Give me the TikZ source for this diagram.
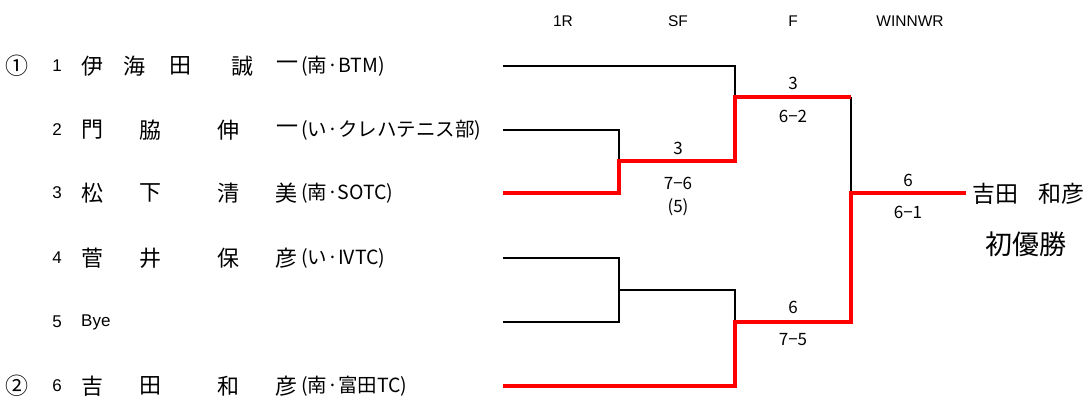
\documentclass[tikz,border=0pt]{standalone}
\usepackage{fontspec}
\setmainfont{Noto Sans CJK JP}
\newfontfamily\jp{Noto Sans CJK JP}
\newfontfamily\lat{Liberation Sans}
\begin{document}
\begin{tikzpicture}[x=1pt,y=-1pt,
  bline/.style={line width=1.5pt,line join=miter},
  rline/.style={line width=4.5pt,red,line join=miter},
  hdr/.style={font=\lat\fontsize{15.5}{15.5}\selectfont,inner sep=0pt},
  score/.style={font=\jp\fontsize{17}{17}\selectfont,inner sep=0pt},
  seed/.style={font=\jp\fontsize{23}{23}\selectfont,inner sep=0pt},
  num/.style={font=\lat\fontsize{17}{17}\selectfont,inner sep=0pt},
  nm/.style={font=\jp\fontsize{22}{22}\selectfont,inner sep=0pt},
  club/.style={font=\jp\fontsize{19.5}{19.5}\selectfont,inner sep=0pt,anchor=west},
  win/.style={font=\jp\fontsize{23}{23}\selectfont,inner sep=0pt}]
\useasboundingbox (0,0) rectangle (1088,398);
% headers
\node[hdr] (h1) at (563,21) {1R};
\node[hdr] (h2) at (678,21) {SF};
\node[hdr] (h3) at (793,21) {F};
\node[hdr] (h4) at (910,21) {WINNWR};
% seeds and numbers
\node[seed] (s1) at (17,66) {①};
\node[seed] (s2) at (17,386) {②};
\foreach \i/\y in {1/66,2/130,3/193,4/258,5/322,6/386}{
  \node[num] (n\i) at (57,\y) {\i};
}
% row 1
\node[nm] (a1) at (92,66) {伊};
\node[nm] (a2) at (134,66) {海};
\node[nm] (a3) at (180,66) {田};
\node[nm] (a4) at (242,66) {誠};
\node[nm] (a5) at (287,66) {一};
\node[club] (c1) at (301,66) {(南·BTM)};
% row 2
\node[nm] (b1) at (92,130) {門};
\node[nm] (b2) at (150,130) {脇};
\node[nm] (b3) at (228,130) {伸};
\node[nm] (b4) at (287,130) {一};
\node[club] (c2) at (301,130) {(い·クレハテニス部)};
% row 3
\node[nm] (d1) at (92,193) {松};
\node[nm] (d2) at (150,193) {下};
\node[nm] (d3) at (228,193) {清};
\node[nm] (d4) at (286,193) {美};
\node[club] (c3) at (301,193) {(南·SOTC)};
% row 4
\node[nm] (e1) at (92,258) {菅};
\node[nm] (e2) at (150,258) {井};
\node[nm] (e3) at (228,258) {保};
\node[nm] (e4) at (286,258) {彦};
\node[club] (c4) at (301,258) {(い·IVTC)};
% row 5
\node[num,anchor=west] (f1) at (81,322) {Bye};
% row 6
\node[nm] (g1) at (92,386) {吉};
\node[nm] (g2) at (150,386) {田};
\node[nm] (g3) at (228,386) {和};
\node[nm] (g4) at (286,386) {彦};
\node[club] (c6) at (301,386) {(南·富田TC)};
% bracket coordinates
\coordinate (p1) at (503,66);
\coordinate (p2) at (503,130);
\coordinate (p3) at (503,193);
\coordinate (p4) at (503,258);
\coordinate (p5) at (503,322);
\coordinate (p6) at (503,386);
\coordinate (q1) at (735,66);
\coordinate (m12) at (619,161);
\coordinate (m45) at (619,290);
\coordinate (sf1) at (735,97);
\coordinate (sf2) at (735,322);
\coordinate (f1top) at (851,97);
\coordinate (fin) at (851,193);
\coordinate (fbot) at (851,322);
\coordinate (w) at (966,193);
% black lines
\draw[bline] (p1) -- (q1) -- (sf1);
\draw[bline] (p2) -| (m12);
\draw[bline] (p4) -| (p5 -| m45) -- (p5);
\draw[bline] (m45) -| (sf2);
\draw[bline] (f1top) -- (fin);
% red lines
\draw[rline] (p3) -| (m12) -| (sf1) -- (f1top);
\draw[rline] (p6) -| (sf2) -| (fin) -- (w);
% scores
\node[score] (t1) at (678,148) {3};
\node[score] (t2) at (678,183) {7−6};
\node[score] (t3) at (678,207) {(5)};
\node[score] (t4) at (793,83) {3};
\node[score] (t5) at (793,116) {6−2};
\node[score] (t6) at (793,307) {6};
\node[score] (t7) at (793,340) {7−5};
\node[score] (t8) at (908,180) {6};
\node[score] (t9) at (908,212) {6−1};
% winner
\node[win,anchor=west] (wn) at (972,194) {吉田\hspace{0.9em}和彦};
\node[win,font=\jp\fontsize{27}{27}\selectfont] (wt) at (1026,244) {初優勝};
\end{tikzpicture}
\end{document}
